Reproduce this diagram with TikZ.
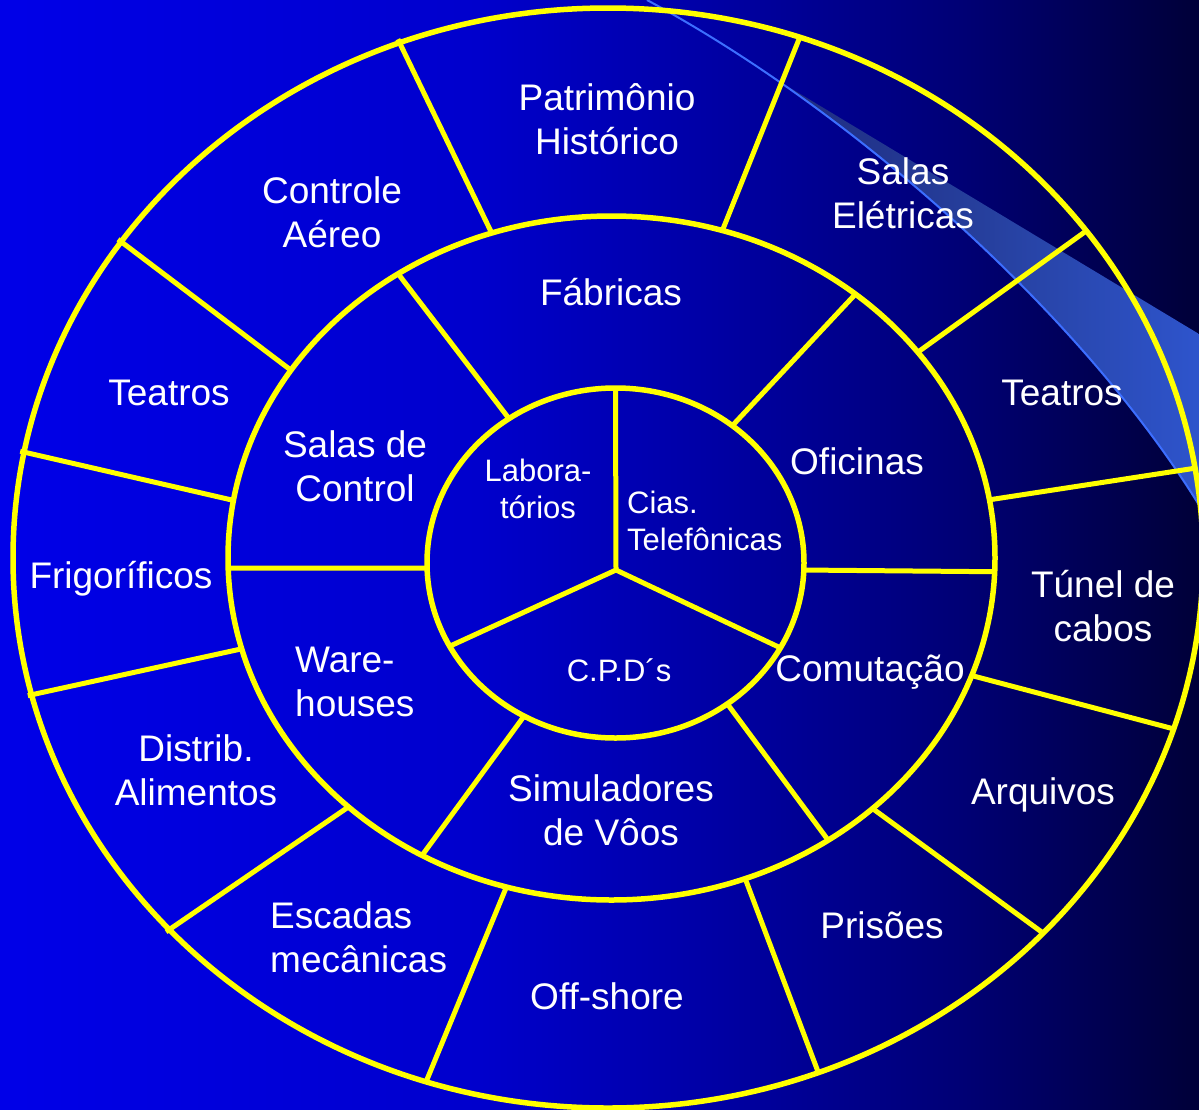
\documentclass[tikz,border=0pt]{standalone}
\usepackage{fontspec}
\setmainfont{Liberation Sans}

% slide background: bright blue on the left fading to navy on the right
\pgfdeclarehorizontalshading{bgshade}{100bp}{%
  rgb(0bp)=(0,0,0.91);
  rgb(25bp)=(0,0,0.91);
  rgb(45bp)=(0,0,0.80);
  rgb(55bp)=(0,0,0.64);
  rgb(65bp)=(0,0,0.46);
  rgb(75bp)=(0,0,0.22);
  rgb(100bp)=(0,0,0.22)}

% translucent decorative band
\pgfdeclarehorizontalshading{bandshade}{100bp}{%
  rgb(0bp)=(0.12,0.17,0.50);
  rgb(25bp)=(0.12,0.17,0.50);
  rgb(50bp)=(0.15,0.25,0.62);
  rgb(75bp)=(0.18,0.33,0.80);
  rgb(100bp)=(0.18,0.33,0.80)}

\definecolor{ringyellow}{RGB}{255,255,0}
\definecolor{swooshline}{RGB}{60,110,255}

\begin{document}
\begin{tikzpicture}[x=1pt, y=-1pt,
  ring/.style={draw=ringyellow, line width=5.5pt},
  spoke/.style={draw=ringyellow, line width=5pt},
  lbl/.style={text=white, font=\fontsize{37}{44}\selectfont, align=center,
    inner sep=0pt, execute at begin node=\strut, execute at end node=\strut},
  slbl/.style={lbl, font=\fontsize{31}{37}\selectfont},
  leftlbl/.style={anchor=west, align=left}]

\useasboundingbox (0,0) rectangle (1199,1109);
\shade[shading=bgshade] (0,0) rectangle (1199,1109);

% decorative swoosh in the upper right corner
\shade[shading=bandshade]
  (775.3,78.9) -- (1199,334) -- (1199,505)
  .. controls (1107.8,357) and (945.6,196.2) .. (775.3,78.9) -- cycle;
\draw[swooshline, line width=2pt]
  (647,0) .. controls (860,115) and (1085,320) .. (1199,505);

% centres of the three rings and of the inner hub
\coordinate (O) at (608,558);
\coordinate (M) at (611.5,558);
\coordinate (I) at (615.5,563);
\coordinate (S) at (616,570);

% ring outlines
\draw[ring] (O) ellipse [x radius=595pt, y radius=550pt];
\draw[ring] (M) ellipse [x radius=383.5pt, y radius=342pt];
\draw[ring] (I) ellipse [x radius=188.5pt, y radius=175pt];

% spokes of the outer ring
\foreach \a/\b in {288.8/286.8, 323.5/323, 350.6/350.2, 18.1/20.1,
                   43/47.1, 69.3/69.6, 107.8/105.9}
  \draw[spoke] ([shift={(\a:595 and 550)}]O) -- ([shift={(\b:383.5 and 342)}]M);
\foreach \a/\b in {249.5/251.8, 137.5/133.3, 165.6/164.6, 191.1/189.7, 215.1/213.3}
  \draw[spoke, shorten <=-4pt] ([shift={(\a:595 and 550)}]O) -- ([shift={(\b:383.5 and 342)}]M);

% spokes of the middle ring
\foreach \a/\b in {236.2/235.6, 309.5/308.3, 2.3/2.3, 55.6/53.6, 119.6/119, 178.3/178.3}
  \draw[spoke] ([shift={(\a:383.5 and 342)}]M) -- ([shift={(\b:188.5 and 175)}]I);

% spokes of the hub
\foreach \b in {270, 151.6, 29}
  \draw[spoke] (S) -- ([shift={(\b:188.5 and 175)}]I);

% outer ring labels
\node[lbl] (patr)     at (607,126)  {Patrimônio\\Histórico};
\node[lbl] (salasel)  at (903,200)  {Salas\\Elétricas};
\node[lbl] (teatrosR) at (1062,397) {Teatros};
\node[lbl] (tunel)    at (1103,612) {Túnel de\\cabos};
\node[lbl] (arquivos) at (1043,796) {Arquivos};
\node[lbl] (prisoes)  at (882,930)  {Prisões};
\node[lbl] (offshore) at (607,1001) {Off-shore};
\node[lbl, leftlbl] (escadas) at (270,944) {Escadas\\mecânicas};
\node[lbl] (distrib)  at (196,777)  {Distrib.\\Alimentos};
\node[lbl] (frigo)    at (121,580)  {Frigoríficos};
\node[lbl] (teatrosL) at (169,397)  {Teatros};
\node[lbl] (controle) at (332,219)  {Controle\\Aéreo};

% middle ring labels
\node[lbl] (fabricas) at (611,297)  {Fábricas};
\node[lbl] (oficinas) at (857,466)  {Oficinas};
\node[lbl] (comut)    at (870,673)  {Comutação};
\node[lbl] (simul)    at (611,817)  {Simuladores\\de Vôos};
\node[lbl, leftlbl] (ware) at (295,688) {Ware-\\houses};
\node[lbl] (salasctl) at (355,473)  {Salas de\\Control};

% hub labels
\node[slbl] (labor) at (538,494) {Labora-\\tórios};
\node[slbl, leftlbl] (cias) at (627,526) {Cias.\\Telefônicas};
\node[slbl] (cpd) at (619,674) {C.P.D´s};

\end{tikzpicture}
\end{document}
